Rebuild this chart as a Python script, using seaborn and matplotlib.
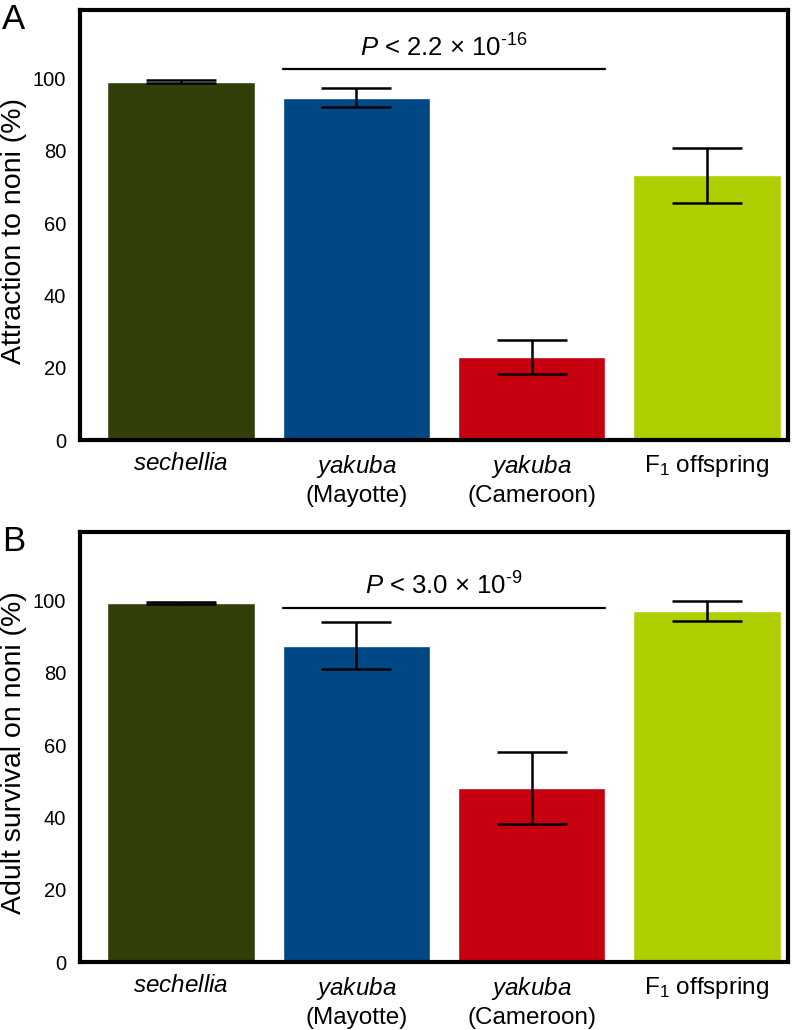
import numpy as np
import pandas as pd
import matplotlib
matplotlib.use("Agg")
import matplotlib.pyplot as plt
import seaborn as sns

# data
groups = ["sechellia", "yakuba (Mayotte)", "yakuba (Cameroon)", "F1 offspring"]
tick_labels = [r"$\mathit{sechellia}$",
               "$\\mathit{yakuba}$\n(Mayotte)",
               "$\\mathit{yakuba}$\n(Cameroon)",
               r"F$_1$ offspring"]
attraction_mean = [99.2, 94.7, 23.0, 73.2]
attraction_err = [0.3, 2.6, 4.7, 7.5]
survival_mean = [99.4, 87.5, 48.2, 97.2]
survival_err = [0.3, 6.5, 9.9, 2.8]
bar_colors = ["#333f09", "#004785", "#c6000f", "#afcf00"]
p_texts = [r"$\mathit{P}$ < 2.2 × 10$^{\text{-16}}$", r"$\mathit{P}$ < 3.0 × 10$^{\text{-9}}$"]

sns.set_style("white")
plt.rcParams["font.family"] = ["Liberation Sans", "DejaVu Sans"]
plt.rcParams["mathtext.fontset"] = "custom"
plt.rcParams["mathtext.rm"] = "Liberation Sans"
plt.rcParams["mathtext.it"] = "Liberation Sans:italic"
for key in ["text.color", "axes.labelcolor", "xtick.color", "ytick.color"]:
    plt.rcParams[key] = "black"

fig = plt.figure(figsize=(7.96, 10.30), dpi=100)
ax_a = fig.add_axes([0.1005, 0.5728, 0.889, 0.4175])
ax_b = fig.add_axes([0.1005, 0.066, 0.889, 0.4175])

panels = [
    (ax_a, attraction_mean, attraction_err, "Attraction to noni (%)", "A", p_texts[0], 102.8, 108.6),
    (ax_b, survival_mean, survival_err, "Adult survival on noni (%)", "B", p_texts[1], 98.0, 104.0),
]

for ax, means, errs, ylab, letter, ptxt, line_y, txt_y in panels:
    df = pd.DataFrame({"group": groups, "value": means})
    sns.barplot(data=df, x="group", y="value", hue="group", palette=bar_colors,
                width=0.84, errorbar=None, legend=False, saturation=1, ax=ax)
    ax.errorbar(np.arange(len(groups)), means, yerr=errs, fmt="none",
                ecolor="black", elinewidth=1.8, capsize=25, capthick=1.8)
    ax.plot([0.58, 2.42], [line_y, line_y], color="black", lw=1.6)
    ax.text(1.5, txt_y, ptxt, ha="center", va="center", fontsize=18.5)

    ax.set_xlim(-0.576, 3.46)
    ax.set_ylim(0, 119)
    ax.set_yticks([0, 20, 40, 60, 80, 100])
    ax.set_xticks(range(len(groups)))
    ax.set_xticklabels(tick_labels, fontsize=17.5, va="top", linespacing=1.3)
    ax.tick_params(axis="y", length=0, pad=10, labelsize=14.5)
    ax.tick_params(axis="x", length=0, pad=9)
    ax.set_xlabel("")
    ax.set_ylabel(ylab, fontsize=20.5)
    ax.yaxis.set_label_coords(-0.075, 0.487)
    for s in ax.spines.values():
        s.set_visible(True)
        s.set_color("black")
        s.set_linewidth(3)

    pos = ax.get_position()
    fig.text(0.017, pos.y1 - 0.0095, letter, fontsize=25, ha="center", va="center")

fig.savefig("out.png", dpi=100)
